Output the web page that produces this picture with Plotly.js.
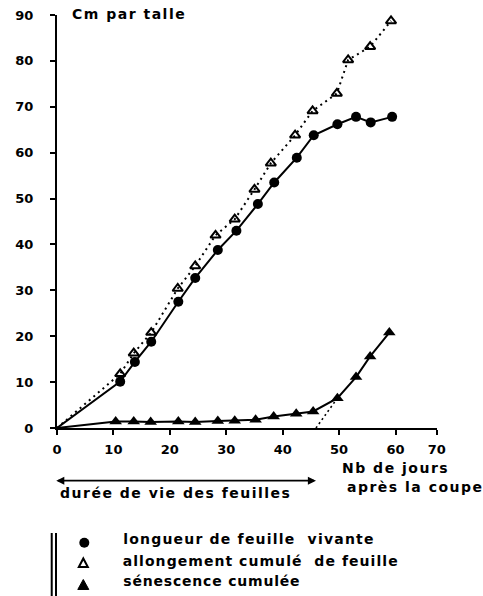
<!DOCTYPE html>
<html>
<head>
<meta charset="utf-8">
<script src="https://cdn.plot.ly/plotly-3.0.1.min.js"></script>
<style>
html,body{margin:0;padding:0;background:#fff;}
#chart{width:483px;height:596px;}
.annotation-text{letter-spacing:1.5px;}
g.annotation[data-index="4"] .annotation-text{letter-spacing:1.2px;}
g.annotation[data-index="5"] .annotation-text{letter-spacing:1.05px;}
g.annotation[data-index="6"] .annotation-text{letter-spacing:0.8px;}
</style>
</head>
<body>
<div id="chart"></div>
<script>
// Nb de jours après la coupe / Cm par talle
const dayLive = [11.2, 13.8, 16.7, 21.5, 24.5, 28.5, 31.8, 35.6, 38.5, 42.5, 45.5, 49.7, 53.0, 55.6, 59.4];
const live    = [10.1, 14.4, 18.8, 27.5, 32.7, 38.8, 43.0, 48.8, 53.5, 58.9, 63.8, 66.2, 67.8, 66.6, 67.8];

const dayElong = [11.2, 13.6, 16.7, 21.4, 24.5, 28.1, 31.5, 35.0, 37.9, 42.2, 45.3, 49.6, 51.6, 55.5, 59.2];
const elong    = [11.8, 16.3, 20.8, 30.4, 35.3, 42.0, 45.5, 52.0, 57.7, 63.8, 69.1, 72.9, 80.2, 83.1, 88.7];

const daySen = [10.4, 13.6, 16.6, 21.5, 24.5, 28.5, 31.5, 35.2, 38.4, 42.4, 45.4, 49.7, 53.0, 55.5, 58.9];
const sen    = [1.4, 1.4, 1.3, 1.4, 1.3, 1.5, 1.6, 1.8, 2.5, 3.1, 3.6, 6.5, 11.1, 15.6, 20.8];

// dotted tangent to senescence curve
const tangentDay = [45.9, 49.7];
const tangentVal = [0, 6.5];

const origin = {day: 0, val: 0};

const xTickLabels = ['0', '10', '20', '30', '40', '50', '60', '70'];
const xTickPos = [0, 10, 20, 30, 40, 50, 60, 67.3];
const yTickVals = [0, 10, 20, 30, 40, 50, 60, 70, 80, 90];

const F = 'DejaVu Sans, Verdana, sans-serif';
const black = '#000';

const traces = [
  {x: [origin.day].concat(dayElong), y: [origin.val].concat(elong), mode: 'lines',
   line: {color: black, width: 2, dash: '2px,4px'}, cliponaxis: false, hoverinfo: 'skip'},
  {x: [origin.day].concat(dayLive), y: [origin.val].concat(live), mode: 'lines',
   line: {color: black, width: 2}, cliponaxis: false, hoverinfo: 'skip'},
  {x: [origin.day].concat(daySen), y: [origin.val].concat(sen), mode: 'lines',
   line: {color: black, width: 2}, cliponaxis: false, hoverinfo: 'skip'},
  {x: tangentDay, y: tangentVal, mode: 'lines',
   line: {color: black, width: 1.6, dash: '2px,3px'}, cliponaxis: false, hoverinfo: 'skip'},
  {x: dayElong, y: elong, mode: 'markers', cliponaxis: false,
   marker: {symbol: 'triangle-up-open', size: 9, color: black, line: {width: 2, color: black}}},
  {x: dayLive, y: live, mode: 'markers', cliponaxis: false,
   marker: {symbol: 'circle', size: 10, color: black}},
  {x: daySen, y: sen, mode: 'markers', cliponaxis: false,
   marker: {symbol: 'triangle-up', size: 11, color: black}}
];

function ann(text, x, y, size) {
  return {text: text, xref: 'paper', yref: 'paper', x: x, y: y, xanchor: 'left', yanchor: 'middle',
          showarrow: false, font: {family: F, size: size || 14, color: black, weight: 'bold'}};
}

const layout = {
  width: 483, height: 596,
  margin: {l: 57, r: 46, t: 15, b: 168},
  paper_bgcolor: '#fff', plot_bgcolor: '#fff',
  showlegend: false,
  xaxis: {
    range: [0, 67.35], tickmode: 'array', tickvals: xTickPos, ticktext: xTickLabels,
    showline: true, linewidth: 2, linecolor: black, showgrid: false, zeroline: false,
    ticks: 'outside', ticklen: 5, tickwidth: 2, tickcolor: black, ticklabelstandoff: 3,
    tickfont: {family: F, size: 13, color: black, weight: 'bold'}, fixedrange: true
  },
  yaxis: {
    range: [0, 90], tickmode: 'array', tickvals: yTickVals,
    showline: true, linewidth: 2, linecolor: black, showgrid: false, zeroline: false,
    ticks: 'outside', ticklen: 5, tickwidth: 2, tickcolor: black, ticklabelstandoff: 14,
    tickfont: {family: F, size: 13, color: black, weight: 'bold'}, fixedrange: true
  },
  annotations: [
    ann('Cm par talle', 0.0334, 1.0022),
    ann('Nb de jours', 0.744, -0.0978),
    ann('après la coupe', 0.757, -0.1424),
    ann('durée de vie des feuilles', 0.002, -0.1584),
    ann('longueur de feuille\u00A0 vivante', 0.157, -0.269),
    ann('allongement cumulé\u00A0 de feuille', 0.15, -0.3215),
    ann('sénescence cumulée', 0.153, -0.370),
    {text: '', xref: 'x', yref: 'paper', x: 45.9, y: -0.1276, axref: 'x', ax: -0.4, ay: 0,
     showarrow: true, arrowside: 'end+start', arrowhead: 2, startarrowhead: 2,
     arrowsize: 0.9, startarrowsize: 0.9, arrowwidth: 1.8, arrowcolor: black, standoff: 0, startstandoff: 0}
  ],
  shapes: [
    // double vertical rule of the key
    {type: 'line', xref: 'paper', yref: 'paper', x0: -0.0139, x1: -0.0139, y0: -0.2542, y1: -0.41,
     line: {color: black, width: 2}},
    {type: 'line', xref: 'paper', yref: 'paper', x0: -0.0026, x1: -0.0026, y0: -0.2542, y1: -0.41,
     line: {color: black, width: 2}},
    // key symbols
    {type: 'circle', xref: 'paper', yref: 'paper', x0: 0.0587, x1: 0.085, y0: -0.2656, y1: -0.2898,
     fillcolor: black, line: {color: black, width: 0}},
    {type: 'path', xref: 'paper', yref: 'paper',
     path: 'M 0.0574 -0.3366 L 0.0811 -0.3366 L 0.0692 -0.316 Z',
     fillcolor: 'rgba(0,0,0,0)', line: {color: black, width: 2}},
    {type: 'path', xref: 'paper', yref: 'paper',
     path: 'M 0.0547 -0.391 L 0.0837 -0.391 L 0.0692 -0.3668 Z',
     fillcolor: black, line: {color: black, width: 1}}
  ]
};

Plotly.newPlot('chart', traces, layout, {displayModeBar: false, staticPlot: true});
</script>
</body>
</html>
